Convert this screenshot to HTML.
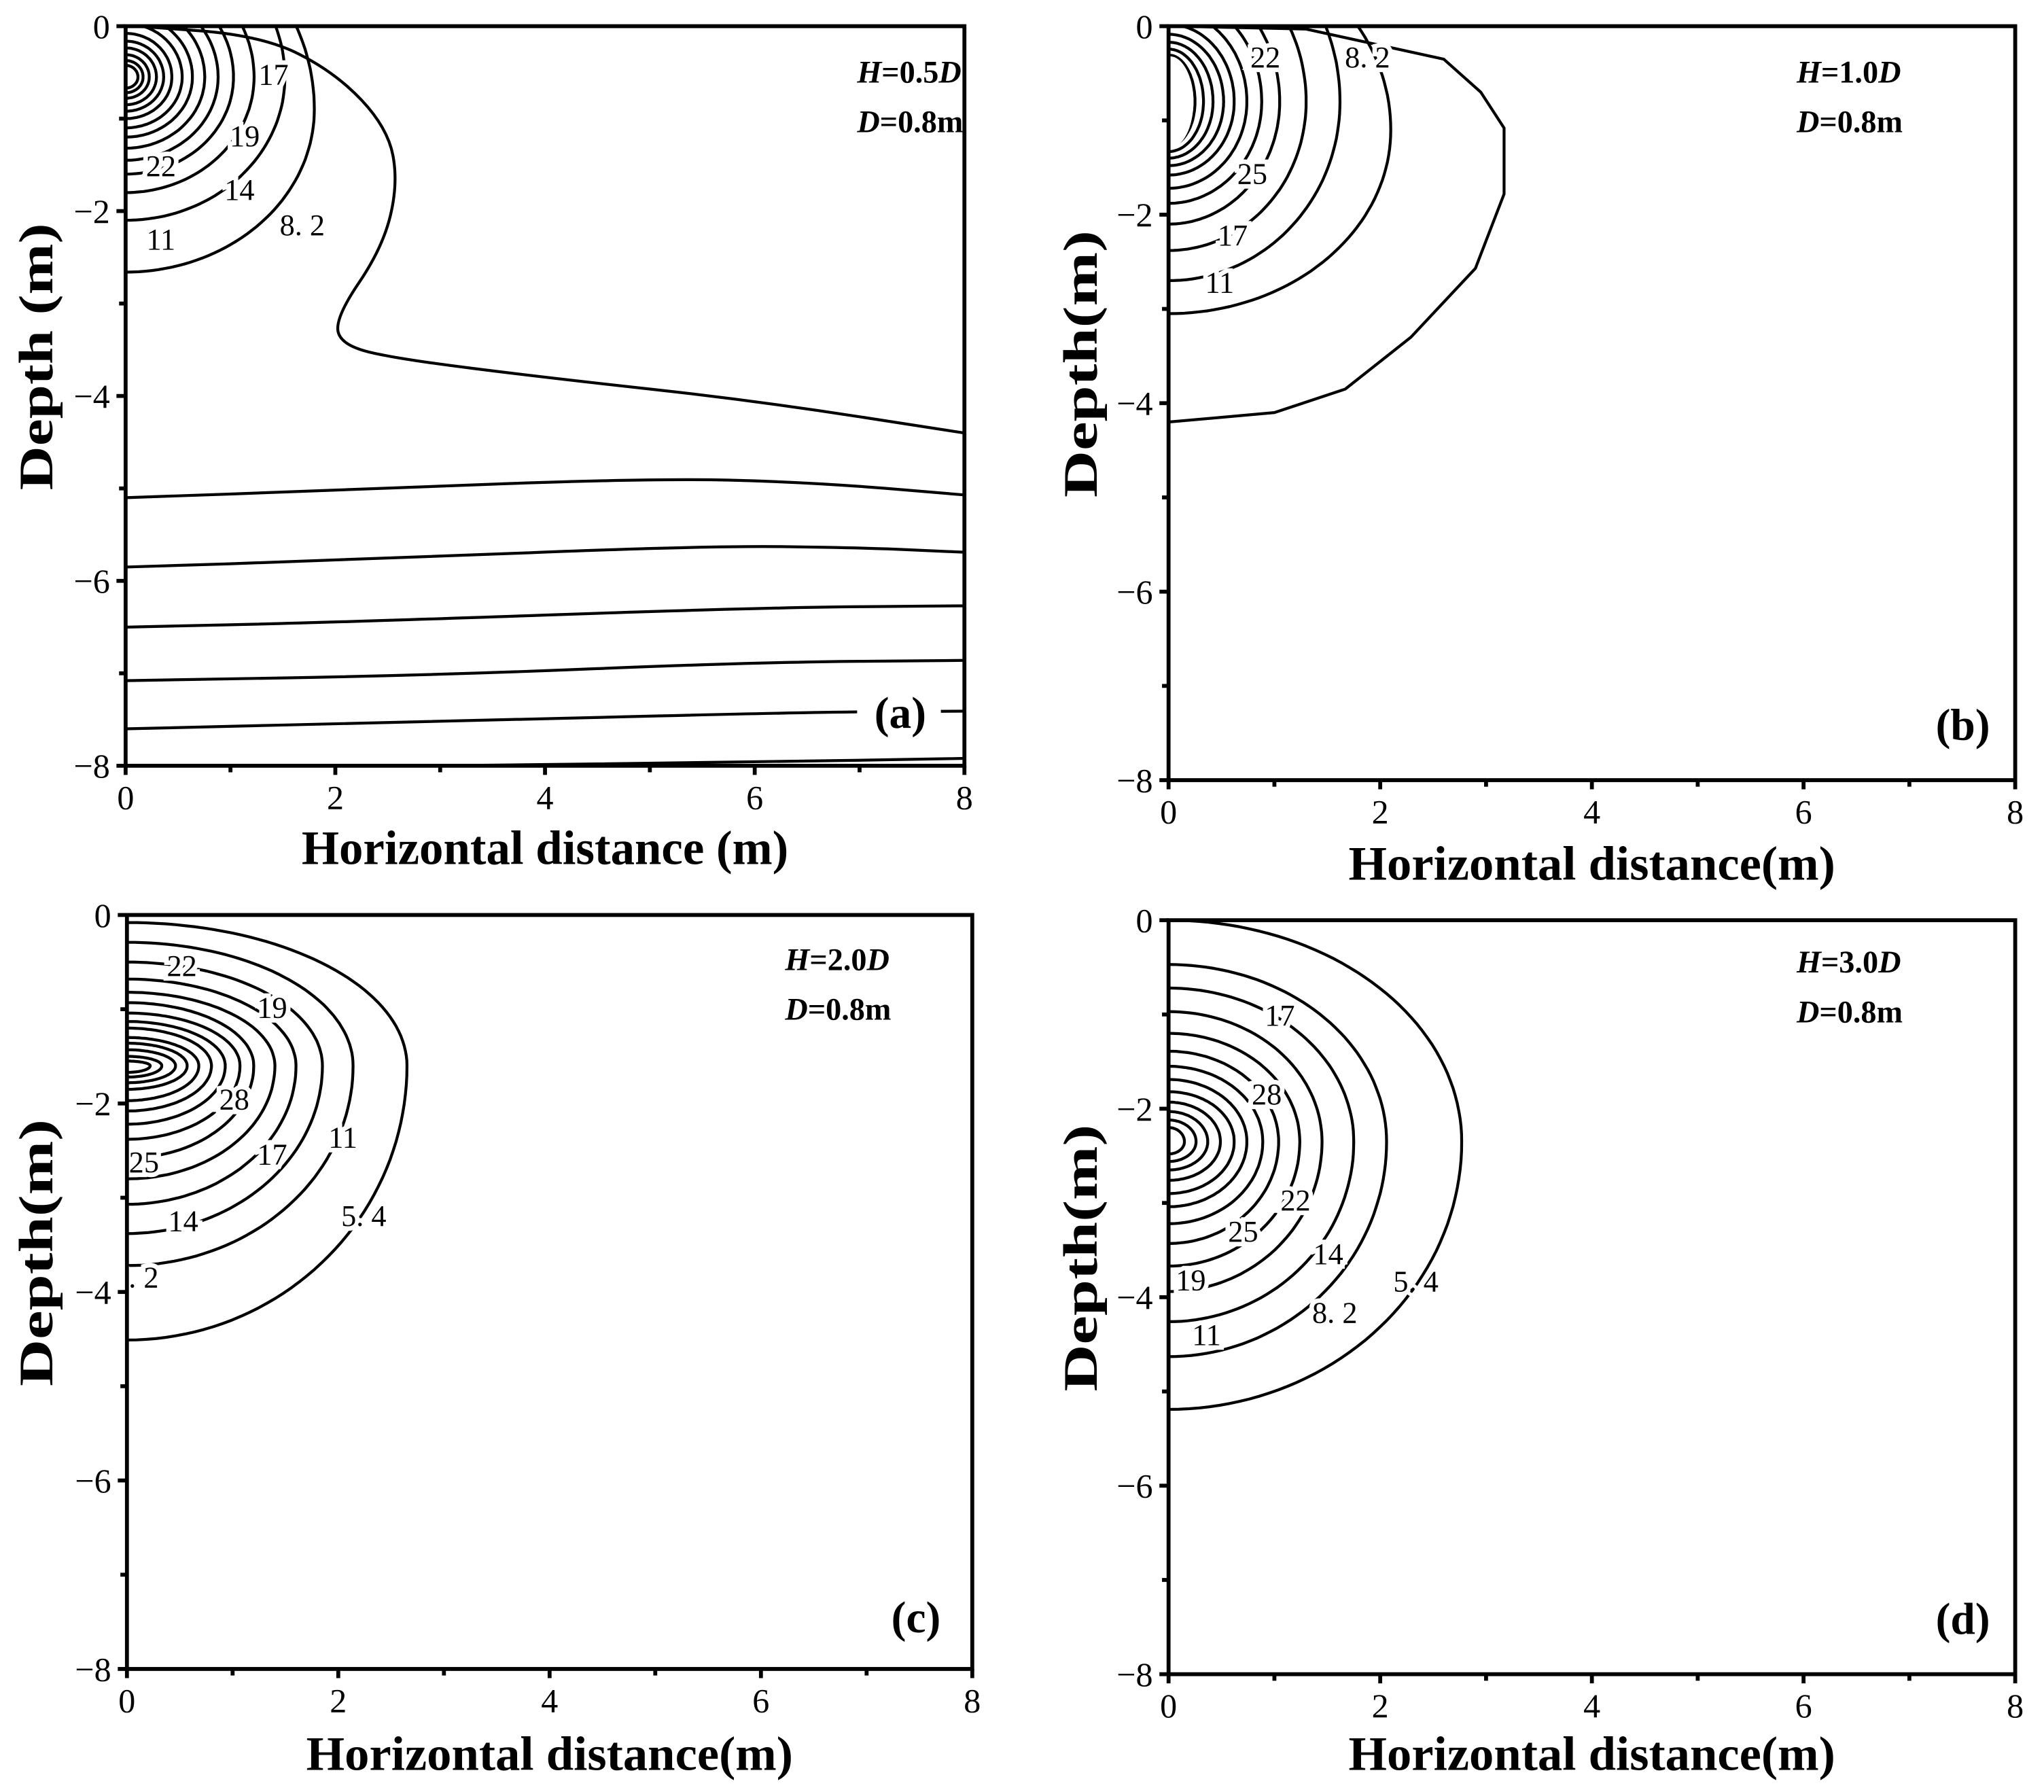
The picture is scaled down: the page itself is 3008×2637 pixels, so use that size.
<!DOCTYPE html>
<html><head><meta charset="utf-8"><style>
html,body{margin:0;padding:0;background:#fff;}
svg{display:block;}
text{font-family:"Liberation Serif",serif;}
</style></head><body>
<svg id="s" xmlns="http://www.w3.org/2000/svg" width="3008" height="2637" viewBox="0 0 1562 1369" preserveAspectRatio="none">
<rect width="1562" height="1369" fill="#fff"/>
</svg>
<script>
const S=document.getElementById('s'),NS='http://www.w3.org/2000/svg';
function el(t,a,txt){const e=document.createElementNS(NS,t);for(const k in a)e.setAttribute(k,a[k]);if(txt!==undefined)e.textContent=txt;S.appendChild(e);return e;}
function P(p,id){return{x0:p[0],y0:p[1],sx:(p[2]-p[0])/8,sy:(p[3]-p[1])/8,id:id};}
function m(pn,x,d){return[(pn.x0+x*pn.sx).toFixed(1),(pn.y0+d*pn.sy).toFixed(1)];}
function clip(id,p){const c=el('clipPath',{id:id});const r=document.createElementNS(NS,'rect');r.setAttribute('x',p[0]);r.setAttribute('y',p[1]);r.setAttribute('width',p[2]-p[0]);r.setAttribute('height',p[3]-p[1]);c.appendChild(r);}
function poly(pn,pts,w){el('path',{d:'M'+pts.map(p=>m(pn,p[0],p[1]).join(',')).join(' L'),fill:'none',stroke:'#000','stroke-width':w||2.2,'stroke-linejoin':'round','clip-path':'url(#'+pn.id+')'});}
function egg(pn,t,c,b,r){const pts=[];for(let a=-90;a<=90;a+=2){const th=a*Math.PI/180;const x=r*Math.cos(th);const y=th<0?c+(c-t)*Math.sin(th):c+(b-c)*Math.sin(th);pts.push([x,y]);}poly(pn,pts);}
function smooth(pn,pts){let d='M'+m(pn,pts[0][0],pts[0][1]).join(',');for(let i=1;i<pts.length;i++){const p0=pts[i-1],p1=pts[i];const mx=(p0[0]+p1[0])/2,my=(p0[1]+p1[1])/2;if(i==1)d+=' L'+m(pn,mx,my).join(',');else d+=' Q'+m(pn,p0[0],p0[1]).join(',')+' '+m(pn,mx,my).join(',');}d+=' L'+m(pn,pts[pts.length-1][0],pts[pts.length-1][1]).join(',');el('path',{d:d,fill:'none',stroke:'#000','stroke-width':2.2});}
function lab(x,y,t,cl){const a={x:x,y:y,'font-size':23,'text-anchor':'middle','dominant-baseline':'central',stroke:'#fff','stroke-width':7,'paint-order':'stroke',fill:'#000'};if(cl)a['clip-path']='url(#'+cl+')';el('text',a,t);}
function axes(p,xt,xtitle,ytitleX,ytitle){const [x0,y0,x8,y8]=p;el('rect',{x:x0,y:y0,width:x8-x0,height:y8-y0,fill:'none',stroke:'#000','stroke-width':3});
for(let i=0;i<=8;i++){const x=x0+i*(x8-x0)/8;el('line',{x1:x,y1:y8,x2:x,y2:y8+(i%2?5:7),stroke:'#000','stroke-width':3});if(i%2==0)el('text',{x:x,y:y8+33,'font-size':26,'text-anchor':'middle'},String(i));
const y=y0+i*(y8-y0)/8;el('line',{x1:x0,y1:y,x2:x0-(i%2?5:7),y2:y,stroke:'#000','stroke-width':3});if(i%2==0)el('text',{x:x0-12,y:y+9,'font-size':26,'text-anchor':'end'},i==0?'0':'\u2212'+i);}
el('text',{x:(x0+x8)/2,y:xt,'font-size':37,'font-weight':'bold','text-anchor':'middle',textLength:372,lengthAdjust:'spacingAndGlyphs'},xtitle);
el('text',{x:0,y:0,'font-size':37,'font-weight':'bold','text-anchor':'middle',textLength:204,lengthAdjust:'spacingAndGlyphs',transform:`translate(${ytitleX},${(y0+y8)/2-30}) rotate(-90)`},ytitle);}
function info(x,y,h){const t=el('text',{x:x,y:y,'font-size':24,'font-weight':'bold'});t.innerHTML='<tspan font-style="italic">H</tspan>='+h+'<tspan font-style="italic">D</tspan>';const t2=el('text',{x:x,y:y+38,'font-size':24,'font-weight':'bold'});t2.innerHTML='<tspan font-style="italic">D</tspan>=0.8m';}

// Panel a
const pa=[96,20,737,585];clip('ca',pa);const A=P(pa,'ca');
[2.1,1.8,1.6,1.45,1.32,1.2,1.1,1.0,0.92,0.85,0.78,0.72,0.67].forEach(b=>{const c=0.55;const rr=b-c;egg(A,c-rr*1.05,c,b,rr*0.98);});
egg(A,-1.2,0.9,2.66,1.8);
smooth(A,[[0.1,0],[1.3,0.1],[2.0,0.5],[2.5,1.1],[2.6,1.7],[2.45,2.4],[2.0,3.15],[2.05,3.45],[2.6,3.6],[4,3.8],[6,4.05],[8,4.4]]);
smooth(A,[[0,5.1],[2,5.02],[5,4.89],[6.5,4.93],[8,5.07]]);
smooth(A,[[0,5.85],[2,5.78],[5.5,5.62],[7,5.64],[8,5.69]]);
smooth(A,[[0,6.5],[2,6.45],[6,6.29],[8,6.27]]);
smooth(A,[[0,7.08],[3,7.02],[6,6.88],[8,6.86]]);
smooth(A,[[0,7.6],[3,7.52],[6.5,7.42],[8,7.41]]);
smooth(A,[[3,8.0],[6,7.96],[8,7.92]]);
el('rect',{x:655,y:523,width:64,height:44,fill:'#fff'});
el('text',{x:688,y:556,'font-size':34,'font-weight':'bold','text-anchor':'middle'},'(a)');
lab(209,57,'17');lab(187,104,'19');lab(123,127,'22');lab(183,145,'14');lab(231,172,'8. 2');lab(123,183,'11');
axes(pa,660,'Horizontal distance (m)',40,'Depth (m)');
info(655,63,'0.5');

// Panel b
const pb=[893,20,1540,596];clip('cb',pb);const B=P(pb,'cb');
poly(B,[[0.05,0],[1.3,0.03],[2.6,0.35],[2.95,0.7],[3.17,1.08],[3.17,1.78],[2.9,2.57],[2.29,3.3],[1.67,3.85],[1.0,4.1],[0,4.2]]);
egg(B,-1.0,1.1,3.05,2.1);
[[2.7,1.62],[2.38,1.3],[2.1,1.05],[1.88,0.88],[1.72,0.74],[1.58,0.62],[1.48,0.52],[1.4,0.42],[1.33,0.33],[1.27,0.25]].forEach(([b,r])=>{const c=0.8;egg(B,c-(b-c)*1.05,c,b,r);});
el('ellipse',{cx:894,cy:78,rx:18,ry:35,fill:'#fff'});
lab(967,44,'22');lab(1045,44,'8. 2');lab(957,133,'25');lab(942,180,'17');lab(932,216,'11');
el('text',{x:1500,y:565,'font-size':34,'font-weight':'bold','text-anchor':'middle'},'(b)');
axes(pb,672,'Horizontal distance(m)',838,'Depth(m)');
info(1373,63,'1.0');

// Panel c
const pc=[97,699,743,1275];clip('cc',pc);const C=P(pc,'cc');
const tc=[0.08,0.29,0.5,0.68,0.82,0.93,1.04,1.13,1.2,1.3,1.36,1.43,1.5,1.55];
const bc=[4.51,3.72,3.38,3.07,2.8,2.58,2.38,2.22,2.08,1.97,1.85,1.78,1.72,1.67];
const rc=[2.65,2.14,1.85,1.6,1.4,1.2,1.07,0.93,0.8,0.68,0.57,0.46,0.33,0.22];
for(let i=0;i<tc.length;i++)egg(C,tc[i],1.6,bc[i],rc[i]);
lab(139,738,'22');lab(208,770,'19');lab(179,840,'28');lab(262,869,'11');lab(208,882,'17');lab(110,888,'25');lab(278,929,'5. 4');lab(140,933,'14');
lab(104,976,'8. 2','cc');
el('text',{x:700,y:1247,'font-size':34,'font-weight':'bold','text-anchor':'middle'},'(c)');
axes(pc,1352,'Horizontal distance(m)',40,'Depth(m)');
info(600,741,'2.0');

// Panel d
const pd=[893,703,1540,1279];clip('cd',pd);const D=P(pd,'cd');
const td=[0,0.47,0.72,0.97,1.2,1.39,1.55,1.69,1.82,1.93,2.03,2.12,2.2];
const bd=[5.19,4.63,4.26,3.94,3.67,3.43,3.22,3.04,2.9,2.76,2.65,2.56,2.48];
const rd=[2.77,2.06,1.75,1.45,1.24,1.04,0.89,0.74,0.62,0.49,0.37,0.26,0.15];
for(let i=0;i<td.length;i++)egg(D,td[i],2.35,bd[i],rd[i]);
lab(978,776,'17');lab(968,836,'28');lab(990,917,'22');lab(950,941,'25');lab(1015,958,'14');lab(1082,979,'5. 4');lab(910,978,'19');lab(1020,1003,'8. 2');lab(922,1020,'11');
el('text',{x:1500,y:1248,'font-size':34,'font-weight':'bold','text-anchor':'middle'},'(d)');
axes(pd,1352,'Horizontal distance(m)',838,'Depth(m)');
info(1373,743,'3.0');
</script>
</body></html>
